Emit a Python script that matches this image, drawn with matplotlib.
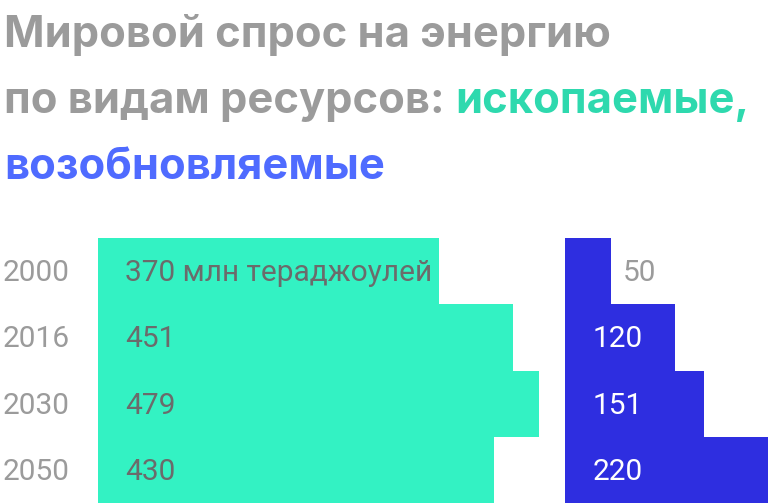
import matplotlib.pyplot as plt
from matplotlib import transforms

years = ["2000", "2016", "2030", "2050"]
fossil = [370, 451, 479, 430]
renewable = [50, 120, 151, 220]
fossil_labels = ["370 млн тераджоулей", "451", "479", "430"]
renewable_labels = ["50", "120", "151", "220"]

GREEN = "#33f2c3"
BLUE = "#2e2ee0"
GRAY = "#9b9b9b"
DARK = "#6b6b6b"
TITLE_GREEN = "#2ed9ae"
TITLE_BLUE = "#4f6bff"

W, H = 768, 503
plt.rcParams['font.family'] = ['Roboto', 'DejaVu Sans']
fig = plt.figure(figsize=(W / 100, H / 100), dpi=100)

px_unit = 0.9205      # pixels per terajoule unit
top = 238             # top of first row, px from top
label_size = 21.5


def pts(px):
    return px * 0.72


# fossil bars
ax_f = fig.add_axes([98 / W, 0, 460 / W, (H - top) / H])
ax_f.barh(range(len(years)), fossil, height=1.0, color=GREEN)
ax_f.set_xlim(0, 460 / px_unit)
ax_f.set_ylim(len(years) - 0.5, -0.5)
ax_f.axis('off')
for i, lab in enumerate(fossil_labels):
    ax_f.annotate(lab, xy=(0, i + 0.15), xytext=(pts(27), 0),
                  textcoords='offset points', va='baseline',
                  fontsize=label_size, color=DARK)

# renewable bars
ax_r = fig.add_axes([565 / W, 0, 203 / W, (H - top) / H])
ax_r.barh(range(len(years)), renewable, height=1.0, color=BLUE)
ax_r.set_xlim(0, 203 / px_unit)
ax_r.set_ylim(len(years) - 0.5, -0.5)
ax_r.axis('off')
for i, (v, lab) in enumerate(zip(renewable, renewable_labels)):
    if v < 80:
        ax_r.annotate(lab, xy=(v, i + 0.15), xytext=(pts(12), 0),
                      textcoords='offset points', va='baseline',
                      fontsize=label_size, color=GRAY)
    else:
        ax_r.annotate(lab, xy=(0, i + 0.15), xytext=(pts(28), 0),
                      textcoords='offset points', va='baseline',
                      fontsize=label_size, color='white')

# year labels
tr = transforms.blended_transform_factory(fig.transFigure, ax_f.transData)
for i, y in enumerate(years):
    fig.text(3 / W, i + 0.15, y, transform=tr, va='baseline',
             fontsize=label_size, color=GRAY)

# title
tfont = dict(fontsize=31.3, fontweight='bold', family=['Inter', 'DejaVu Sans'],
             va='baseline')
fig.text(4 / W, 1 - 47 / H, "Мировой спрос на энергию", color=GRAY, **tfont)
t2 = fig.text(4 / W, 1 - 113 / H, "по видам ресурсов: ", color=GRAY, **tfont)
fig.canvas.draw()
x_end = t2.get_window_extent().x1 / W
fig.text(x_end, 1 - 113 / H, "ископаемые,", color=TITLE_GREEN, **tfont)
fig.text(4 / W, 1 - 179 / H, "возобновляемые", color=TITLE_BLUE, **tfont)

fig.savefig("out.png", dpi=100)
